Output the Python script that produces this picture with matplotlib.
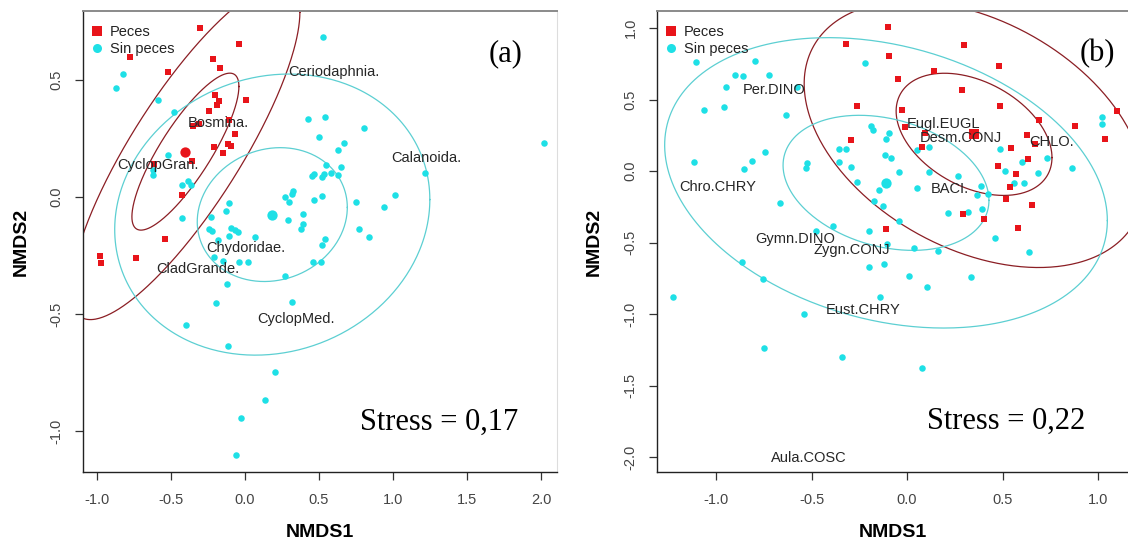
import numpy as np
import matplotlib
matplotlib.use("Agg")
import matplotlib.pyplot as plt
from matplotlib.lines import Line2D

# ---------------- Panel (a) data ----------------
a_peces_x = [-0.302, -0.041, -0.777, -0.218, -0.169, -0.522, 0.005, -0.205, -0.174, -0.191,
             -0.243, -0.110, -0.309, -0.349, -0.066, -0.211, -0.115, -0.093, -0.149, -0.358,
             -0.428, -0.541, -0.980, -0.973, -0.739, -0.613]
a_peces_y = [0.724, 0.655, 0.600, 0.591, 0.551, 0.533, 0.416, 0.437, 0.412, 0.392,
             0.369, 0.330, 0.312, 0.303, 0.271, 0.214, 0.226, 0.219, 0.187, 0.153,
             0.010, -0.179, -0.252, -0.282, -0.262, 0.141]
a_sin_x = [-0.872, -0.822, -0.586, -0.480, -0.522, -0.620, -0.620, -0.428, -0.387, -0.367,
           -0.428, -0.110, -0.130, -0.232, -0.241, -0.221, -0.093, -0.068, -0.045, -0.182,
           -0.106, 0.068, -0.209, -0.147, 0.022, -0.041, 0.529, 0.428, 0.543, 0.804,
           0.498, 0.669, 0.630, 2.020, 0.545, 1.214, 0.453, 0.468, 0.518, 0.536,
           0.579, 0.651, 0.630, 0.324, 0.316, 0.270, 0.299, 0.466, 0.522, 1.011,
           0.752, 0.941, 0.390, 0.291, 0.394, 0.376, 0.770, 0.838, 0.541, 0.522,
           0.457, 0.511, 0.268, 0.316, 0.201, -0.124, -0.198, -0.401, -0.117, 0.137,
           -0.027, -0.059]
a_sin_y = [0.467, 0.524, 0.416, 0.363, 0.178, 0.115, 0.094, 0.050, 0.070, 0.050,
           -0.091, -0.026, -0.059, -0.087, -0.135, -0.144, -0.131, -0.141, -0.148, -0.184,
           -0.165, -0.172, -0.258, -0.274, -0.279, -0.276, 0.685, 0.333, 0.342, 0.295,
           0.255, 0.229, 0.201, 0.229, 0.135, 0.101, 0.090, 0.098, 0.084, 0.098,
           0.103, 0.127, 0.094, 0.027, 0.013, 0.001, -0.020, -0.014, 0.006, 0.010,
           -0.023, -0.043, -0.074, -0.098, -0.115, -0.137, -0.135, -0.171, -0.179, -0.205,
           -0.276, -0.276, -0.338, -0.447, -0.747, -0.372, -0.453, -0.548, -0.637, -0.866,
           -0.946, -1.104]
a_cent_peces = (-0.403, 0.194)
a_cent_sin = (0.184, -0.075)
a_species = ["Bosmina.", "CyclopGran.", "Ceriodaphnia.", "Calanoida.", "Chydoridae.",
             "CladGrande.", "CyclopMed."]
a_species_x = [-0.180, -0.590, 0.597, 1.228, 0.007, -0.318, 0.345]
a_species_y = [0.315, 0.137, 0.535, 0.168, -0.218, -0.308, -0.521]
# ellipse parameters: (sx, sy, rho, inner scale, outer scale)
a_ell_peces = (0.3615, 0.3354, 0.83, 1.0, 2.14)
a_ell_sin = (0.507, 0.286, 0.107, 1.0, 2.10)
a_xticks = [-1.0, -0.5, 0.0, 0.5, 1.0, 1.5, 2.0]
a_yticks = [-1.0, -0.5, 0.0, 0.5]
a_stress = "Stress = 0,17"

# ---------------- Panel (b) data ----------------
b_peces_x = [-0.098, -0.319, -0.094, -0.049, -0.262, -0.026, -0.010, -0.291, -0.110, 0.297,
             0.483, 0.140, 0.290, 0.488, 1.098, 0.691, 0.880, 0.630, 0.672, 1.035,
             0.079, 0.094, 0.545, 0.634, 0.478, 0.571, 0.539, 0.520, 0.653, 0.295,
             0.403, 0.580]
b_peces_y = [1.005, 0.886, 0.806, 0.645, 0.457, 0.427, 0.306, 0.220, -0.406, 0.881,
             0.734, 0.701, 0.564, 0.455, 0.420, 0.355, 0.315, 0.252, 0.187, 0.222,
             0.166, 0.264, 0.163, 0.082, 0.033, -0.021, -0.110, -0.194, -0.240, -0.303,
             -0.338, -0.401]
b_sin_x = [-1.106, -0.796, -0.901, -0.857, -0.723, -0.949, -0.577, -1.061, -0.960, -0.634,
           -0.742, -0.812, -0.855, -1.115, -0.665, -0.522, -0.530, -0.354, -0.319, -0.354,
           -0.295, -0.476, -0.389, -0.865, -0.752, -0.218, -0.188, -0.180, -0.110, -0.093,
           -0.115, -0.085, -0.040, 0.051, -0.260, -0.148, 0.054, -0.173, -0.124, -0.040,
           -0.197, -0.103, 0.038, -0.197, -0.119, 0.010, 0.106, -0.141, -0.538, 1.019,
           1.019, 0.487, 0.117, 0.731, 0.602, 0.115, 0.515, 0.686, 0.862, 0.269,
           0.562, 0.611, 0.386, 0.426, 0.365, 0.213, 0.318, 0.393, 0.161, 0.462,
           0.639, 0.334, -0.342, 0.079, -1.224, -0.747]
b_sin_y = [0.760, 0.771, 0.673, 0.666, 0.673, 0.590, 0.585, 0.429, 0.450, 0.392,
           0.133, 0.070, 0.012, 0.063, -0.224, 0.058, 0.019, 0.154, 0.154, 0.063,
           0.030, -0.420, -0.385, -0.638, -0.757, 0.753, 0.315, 0.287, 0.226, 0.264,
           0.112, 0.089, -0.005, 0.147, -0.075, -0.133, -0.121, -0.210, -0.243, -0.350,
           -0.420, -0.510, -0.534, -0.671, -0.652, -0.734, -0.809, -0.879, -1.000, 0.380,
           0.327, 0.154, 0.170, 0.089, 0.061, -0.005, -0.002, -0.012, 0.023, -0.035,
           -0.082, -0.082, -0.103, -0.163, -0.168, -0.292, -0.285, -0.268, -0.557, -0.466,
           -0.564, -0.739, -1.299, -1.376, -0.883, -1.233]
b_cent_peces = (0.351, 0.257)
b_cent_sin = (-0.110, -0.082)
b_species = ["Per.DINO", "Chro.CHRY", "Gymn.DINO", "Zygn.CONJ", "Eust.CHRY", "Aula.COSC",
             "Eugl.EUGL", "Desm.CONJ", "CHLO.", "BACI."]
b_species_x = [-0.696, -0.993, -0.586, -0.290, -0.229, -0.512, 0.190, 0.281, 0.758, 0.225]
b_species_y = [0.566, -0.110, -0.478, -0.552, -0.972, -2.005, 0.329, 0.229, 0.205, -0.126]
b_ell_peces = (0.408, 0.427, -0.38, 1.0, 2.18)
b_ell_sin = (0.539, 0.472, -0.26, 1.0, 2.15)
b_xticks = [-1.0, -0.5, 0.0, 0.5, 1.0]
b_yticks = [-2.0, -1.5, -1.0, -0.5, 0.0, 0.5, 1.0]
b_stress = "Stress = 0,22"

group_labels = ["Peces", "Sin peces"]

# ---------------- styling ----------------
RED = "#e8141a"
CYAN = "#1ee0e6"
RED_ELL = "#8b1e24"
CYAN_ELL = "#5ccfd2"
SANS = "Liberation Sans"
SERIF = "Liberation Serif"

W, H = 1128, 546
fig = plt.figure(figsize=(W / 100, H / 100), dpi=100)


def add_axes_px(left, top, right, bottom):
    return fig.add_axes([left / W, 1 - bottom / H, (right - left) / W, (bottom - top) / H])


def ellipse_xy(center, sx, sy, rho, k):
    cov = np.array([[sx * sx, rho * sx * sy], [rho * sx * sy, sy * sy]])
    L = np.linalg.cholesky(cov)
    t = np.linspace(0, 2 * np.pi, 400)
    pts = k * (L @ np.vstack([np.cos(t), np.sin(t)]))
    return center[0] + pts[0], center[1] + pts[1]


def draw_panel(ax, px, py, sx_, sy_, cp, cs, ell_p, ell_s, sp, spx, spy,
               xlim, ylim, xt, yt, stress, tag, tagpos, stresspos, right_spine, ylab_x):
    ax.set_xlim(*xlim)
    ax.set_ylim(*ylim)
    # ellipses
    for cen, par, col in [(cp, ell_p, RED_ELL), (cs, ell_s, CYAN_ELL)]:
        sxe, sye, rho, k1, k2 = par
        for k in (k1, k2):
            ex, ey = ellipse_xy(cen, sxe, sye, rho, k)
            ax.plot(ex, ey, color=col, lw=0.9, zorder=2)
    ax.scatter(sx_, sy_, s=22, marker="o", color=CYAN, linewidths=0, zorder=3)
    ax.scatter(px, py, s=20, marker="s", color=RED, linewidths=0, zorder=4)
    ax.scatter([cs[0]], [cs[1]], s=55, marker="o", color=CYAN, linewidths=0, zorder=4)
    ax.scatter([cp[0]], [cp[1]], s=55, marker="o" if tag == "(a)" else "s",
               color=RED, linewidths=0, zorder=5)
    for name, x, y in zip(sp, spx, spy):
        ax.text(x, y, name, ha="center", va="center", fontsize=10.5,
                family=SANS, color="#262626", zorder=6)
    ax.set_xticks(xt)
    ax.set_yticks(yt)
    ax.set_xticklabels([f"{v:.1f}" for v in xt])
    ax.set_yticklabels([f"{v:.1f}" for v in yt], rotation=90, va="center")
    ax.tick_params(direction="out", length=6, width=0.9, color="#333333",
                   labelsize=10.5, labelcolor="#444444")
    ax.tick_params(axis="x", pad=9)
    ax.tick_params(axis="y", pad=8)
    for lab in ax.get_xticklabels() + ax.get_yticklabels():
        lab.set_family(SANS)
    for s in ("left", "bottom"):
        ax.spines[s].set_color("#222222")
        ax.spines[s].set_linewidth(1.0)
    ax.spines["top"].set_color("#8a8a8a")
    ax.spines["top"].set_linewidth(1.4)
    if right_spine:
        ax.spines["right"].set_color("#dddddd")
        ax.spines["right"].set_linewidth(0.8)
    else:
        ax.spines["right"].set_visible(False)
    ax.set_xlabel("NMDS1", fontsize=14, fontweight="bold", family=SANS)
    ax.set_ylabel("NMDS2", fontsize=14, fontweight="bold", family=SANS)
    ax.xaxis.set_label_coords(0.5, -0.112)
    ax.yaxis.set_label_coords(ylab_x, 0.5)
    ax.text(*stresspos, stress, transform=ax.transAxes, ha="center", va="center",
            fontsize=22, family=SERIF, color="black")
    ax.text(*tagpos, tag, transform=ax.transAxes, ha="center", va="center",
            fontsize=22, family=SERIF, color="black")
    handles = [Line2D([], [], marker="s", ls="", color=RED, markersize=6.5, markeredgewidth=0),
               Line2D([], [], marker="o", ls="", color=CYAN, markersize=6.5, markeredgewidth=0)]
    leg = ax.legend(handles, group_labels, loc="upper left", bbox_to_anchor=(0.0, 0.986),
                    frameon=False, fontsize=10.5, handlelength=0.9, handletextpad=0.45,
                    labelspacing=0.2, borderaxespad=0.3, borderpad=0.2)
    for t in leg.get_texts():
        t.set_family(SANS)
        t.set_color("#222222")


ax1 = add_axes_px(83, 11, 557, 472)
draw_panel(ax1, a_peces_x, a_peces_y, a_sin_x, a_sin_y, a_cent_peces, a_cent_sin,
           a_ell_peces, a_ell_sin, a_species, a_species_x, a_species_y,
           (-1.095, 2.108), (-1.175, 0.795), a_xticks, a_yticks, a_stress, "(a)",
           (0.892, 0.907), (0.751, 0.108), True, -0.112)

ax2 = add_axes_px(657, 11, 1128, 472)
draw_panel(ax2, b_peces_x, b_peces_y, b_sin_x, b_sin_y, b_cent_peces, b_cent_sin,
           b_ell_peces, b_ell_sin, b_species, b_species_x, b_species_y,
           (-1.309, 1.157), (-2.103, 1.119), b_xticks, b_yticks, b_stress, "(b)",
           (0.936, 0.907), (0.741, 0.109), False, -0.115)

fig.savefig("out.png", dpi=100)
